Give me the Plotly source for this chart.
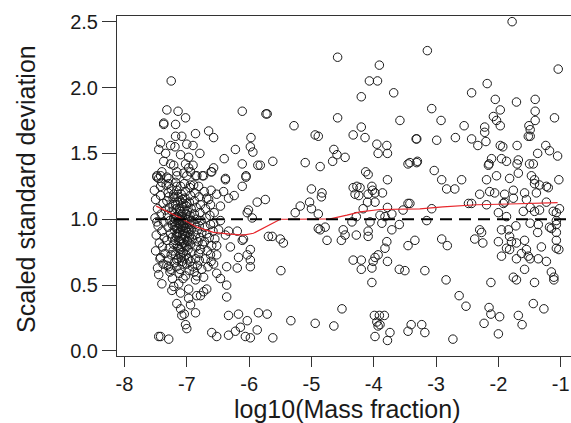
import plotly.graph_objects as go

# scattered points outside the dense cluster
x_pts = [
    -7.25, -7.32, -7.14, -7.02, -7.37, -7.37, -7.18, -7.18, -7.08, -6.86, -6.65, -6.57,
    -6.11, -5.73, -5.97, -5.98, -5.94, -6.22, -6.40, -6.11, -5.86, -6.57, -6.60, -6.38,
    -6.05, -6.79, -7.42, -7.45, -7.34, -7.26, -7.19, -7.00, -6.90, -6.97, -7.10, -7.37,
    -7.26, -7.21, -7.02, -6.97, -6.90, -7.40, -7.48, -7.32, -7.16, -7.05, -6.94, -6.84,
    -6.73,
    -7.48, -7.42, -7.29, -7.16, -7.00, -6.86, -6.75, -6.61, -6.38, -6.05,
    -7.42, -7.29, -7.16, -6.94, -6.81, -6.61, -6.52, -6.41, -6.33, -6.24, -6.11, -5.87,
    -5.74, -6.68, -6.62, -6.46, -6.01, -6.03, -5.95, -6.46, -6.57, -6.49, -6.38, -6.33,
    -6.19, -6.11, -6.09, -5.98, -6.30, -6.17, -6.03, -5.98, -5.98, -6.52, -6.62, -6.52,
    -6.57, -6.36, -6.19, -6.52, -6.46, -6.36, -6.36, -6.73, -6.86, -6.68, -6.73, -6.78,
    -6.84, -6.97, -6.97, -6.94, -6.86, -7.08, -7.04, -7.02, -7.00, -7.10, -7.16, -7.21,
    -7.24, -7.10, -7.45, -7.40, -7.32, -7.29, -7.42, -7.45, -7.42, -7.29, -6.33, -6.17,
    -6.03, -5.85, -5.71, -6.60, -6.52, -6.33, -6.22, -6.14, -6.06, -5.98, -5.87, -5.69,
    -4.58, -3.91, -4.07, -3.94, -3.68, -4.20, -5.71, -5.28, -4.58, -3.58, -4.20, -4.94,
    -4.89, -4.33, -4.14, -3.32, -3.95, -3.79, -3.93, -3.78, -4.64, -4.59, -4.46, -4.66,
    -5.62, -5.82, -5.10, -4.86, -3.45, -3.31, -4.13, -4.09, -3.78,
    -5.00, -4.83, -4.84, -5.03, -5.18, -5.26, -5.00, -4.89, -4.33, -4.27, -4.22, -4.30,
    -4.24, -4.03, -4.02, -4.09, -3.98, -3.86, -4.10, -3.98, -4.17, -3.78, -3.45, -3.53,
    -3.90, -3.82, -3.71, -4.28, -4.35, -4.06, -3.87, -4.89, -4.86, -4.78, -4.49, -4.46,
    -4.28, -4.09, -4.09, -3.71, -3.59, -5.63, -5.50, -5.45, -4.75, -4.52, -3.79, -3.82,
    -3.34, -3.45, -3.93, -3.98, -4.01, -4.03, -4.33, -4.20, -4.20, -3.78, -3.59, -3.50,
    -5.49, -4.03, -4.51, -5.33, -4.94, -4.64, -3.99, -3.91, -3.83, -3.95, -3.93, -3.90,
    -3.98, -3.74, -3.78, -5.62, -3.45, -3.40,
    -1.78, -3.14, -1.04, -2.18, -2.43, -2.05, -1.71, -1.41, -3.07, -1.97, -1.41, -2.92,
    -2.08, -2.03, -1.97, -1.41, -1.10, -2.55, -2.22, -2.22, -1.51, -1.49, -1.52, -1.49,
    -3.31, -2.99, -2.69, -2.43, -2.33, -2.20, -1.97, -1.93, -1.70, -1.24, -1.18, -1.05,
    -1.37, -3.42, -3.30, -3.03, -2.11, -2.15, -2.16, -1.95, -1.87, -1.68, -1.70, -1.50,
    -1.44, -2.91, -2.59, -2.19, -2.03, -1.82, -1.68, -1.47, -1.42, -1.03,
    -2.83, -2.70, -1.42, -1.34, -1.23, -1.20, -2.30, -2.14, -2.06, -1.90, -1.76, -1.90,
    -1.76, -1.58, -1.39, -1.55, -1.23, -3.42, -3.07, -2.48, -2.43, -2.19, -1.92, -2.00,
    -1.87, -1.60, -1.49, -1.42, -1.34, -1.12, -1.07, -1.02, -3.15, -1.49, -1.36, -1.07,
    -1.07, -1.18, -2.30, -2.27, -1.95, -1.84, -1.72, -1.37, -1.15, -1.07, -2.91, -2.82,
    -2.38, -2.25, -2.00, -1.82, -1.79, -1.71, -1.58, -1.87, -1.82, -1.95, -1.71, -1.63,
    -1.55, -1.52, -1.49, -1.36, -1.31, -1.23, -1.07, -1.07, -1.03, -3.18, -1.58, -1.76,
    -1.71, -1.15, -1.11, -1.11, -1.42, -2.84, -2.12, -2.63, -2.52, -2.15, -2.12, -2.23,
    -1.98, -1.68, -1.62, -1.44, -1.27, -2.00, -2.73, -3.23, -3.18,
]
y_pts = [
    2.05, 1.83, 1.82, 1.77, 1.73, 1.72, 1.72, 1.63, 1.63, 1.65, 1.67, 1.62,
    1.82, 1.80, 1.62, 1.55, 1.51, 1.53, 1.46, 1.42, 1.41, 1.39, 1.36, 1.31,
    1.33, 1.50, 1.58, 1.53, 1.50, 1.56, 1.55, 1.57, 1.56, 1.47, 1.49, 1.44,
    1.42, 1.41, 1.42, 1.39, 1.41, 1.36, 1.32, 1.32, 1.36, 1.35, 1.36, 1.33,
    1.33,
    1.33, 1.33, 1.31, 1.33, 1.33, 1.33, 1.33, 1.36, 1.30, 1.32,
    1.25, 1.27, 1.25, 1.26, 1.25, 1.22, 1.19, 1.21, 1.16, 1.18, 1.25, 1.13,
    1.15, 1.16, 1.11, 1.10, 1.07, 1.05, 1.01, 0.99, 0.97, 0.92, 0.88, 0.91,
    0.91, 0.84, 0.85, 0.77, 0.79, 0.71, 0.73, 0.69, 0.64, 0.80, 0.73, 0.73,
    0.66, 0.64, 0.63, 0.59, 0.55, 0.50, 0.41, 0.56, 0.54, 0.47, 0.45, 0.42,
    0.42, 0.47, 0.40, 0.35, 0.29, 0.27, 0.28, 0.20, 0.17, 0.32, 0.36, 0.49,
    0.46, 0.44, 0.58, 0.51, 0.65, 0.64, 0.71, 0.11, 0.11, 0.09, 0.27, 0.28,
    0.23, 0.29, 0.28, 0.14, 0.11, 0.12, 0.15, 0.18, 0.11, 0.10, 0.16, 0.87,
    2.23, 2.17, 2.05, 2.05, 1.96, 1.93, 1.80, 1.71, 1.77, 1.75, 1.70, 1.64,
    1.63, 1.64, 1.62, 1.61, 1.57, 1.56, 1.50, 1.50, 1.53, 1.49, 1.47, 1.44,
    1.44, 1.41, 1.43, 1.40, 1.42, 1.43, 1.36, 1.34, 1.30,
    1.23, 1.20, 1.17, 1.13, 1.10, 1.05, 1.08, 1.04, 1.24, 1.25, 1.24, 1.19,
    1.18, 1.25, 1.22, 1.19, 1.20, 1.20, 1.13, 1.13, 1.08, 1.09, 1.12, 1.07,
    1.03, 1.02, 1.04, 1.02, 0.98, 0.98, 0.97, 0.93, 0.92, 0.94, 0.92, 0.88,
    0.88, 0.91, 0.87, 0.92, 0.96, 0.87, 0.85, 0.82, 0.84, 0.84, 0.83, 0.78,
    0.84, 0.80, 0.73, 0.71, 0.68, 0.63, 0.69, 0.69, 0.62, 0.68, 0.62, 0.61,
    0.61, 0.52, 0.32, 0.23, 0.21, 0.19, 0.27, 0.27, 0.27, 0.22, 0.19, 0.20,
    0.11, 0.14, 0.08, 0.10, 0.15, 0.20,
    2.50, 2.28, 2.14, 2.03, 1.96, 1.91, 1.89, 1.91, 1.84, 1.83, 1.82, 1.75,
    1.78, 1.75, 1.71, 1.75, 1.77, 1.71, 1.70, 1.66, 1.71, 1.68, 1.63, 1.63,
    1.61, 1.60, 1.62, 1.61, 1.56, 1.59, 1.56, 1.55, 1.56, 1.56, 1.52, 1.48,
    1.50, 1.43, 1.44, 1.37, 1.46, 1.42, 1.41, 1.46, 1.44, 1.45, 1.42, 1.42,
    1.42, 1.30, 1.30, 1.30, 1.33, 1.31, 1.35, 1.33, 1.30, 1.30,
    1.23, 1.23, 1.27, 1.26, 1.25, 1.24, 1.19, 1.21, 1.20, 1.19, 1.22, 1.13,
    1.16, 1.20, 1.20, 1.15, 1.13, 1.12, 1.08, 1.12, 1.12, 1.11, 1.12, 1.05,
    1.02, 1.06, 1.09, 1.06, 1.07, 1.06, 1.05, 1.08, 0.99, 0.97, 0.96, 0.99,
    0.96, 0.94, 0.92, 0.90, 0.92, 0.92, 0.95, 0.90, 0.93, 0.90, 0.85, 0.80,
    0.85, 0.82, 0.83, 0.87, 0.83, 0.82, 0.84, 0.78, 0.77, 0.72, 0.70, 0.74,
    0.77, 0.72, 0.70, 0.70, 0.79, 0.68, 0.84, 0.78, 0.77, 0.61, 0.62, 0.56,
    0.54, 0.60, 0.56, 0.54, 0.52, 0.54, 0.52, 0.42, 0.34, 0.33, 0.28, 0.21,
    0.26, 0.27, 0.20, 0.36, 0.32, 0.13, 0.09, 0.20, 0.14,
]

# dense cluster around log10(mass fraction) = -7
x_clu = [
    -7.52, -7.50, -7.47, -7.51, -7.46, -7.49, -7.44, -7.50, -7.43, -7.47, -7.40, -7.42,
    -7.38, -7.41, -7.37, -7.40, -7.36, -7.39, -7.35, -7.38, -7.45, -7.48,
    -7.33, -7.30, -7.32, -7.28, -7.31, -7.27, -7.30, -7.26, -7.32, -7.28, -7.25, -7.30,
    -7.27, -7.23, -7.25, -7.22, -7.24, -7.21, -7.23, -7.20, -7.24, -7.21, -7.22, -7.20,
    -7.26, -7.29, -7.34, -7.22,
    -7.18, -7.16, -7.19, -7.15, -7.17, -7.13, -7.18, -7.14, -7.16, -7.12, -7.17, -7.13,
    -7.15, -7.11, -7.18, -7.14, -7.16, -7.12, -7.10, -7.09, -7.11, -7.08, -7.10, -7.07,
    -7.09, -7.06, -7.10, -7.07, -7.09, -7.05, -7.08, -7.06, -7.09, -7.07, -7.11, -7.06,
    -7.13, -7.19, -7.12, -7.14, -7.16, -7.08, -7.11, -7.05, -7.19,
    -7.04, -7.02, -7.03, -7.00, -7.04, -7.01, -6.99, -7.03, -7.00, -6.98, -7.02, -6.99,
    -7.03, -6.98, -7.01, -6.97, -7.00, -6.96, -7.02, -6.95, -6.94, -6.96, -6.93, -6.95,
    -6.92, -6.96, -6.93, -6.95, -6.91, -6.94, -6.92, -6.94, -6.91, -7.01, -6.97,
    -6.89, -6.87, -6.88, -6.85, -6.88, -6.84, -6.87, -6.83, -6.86, -6.82, -6.85, -6.81,
    -6.86, -6.83, -6.88, -6.80, -6.78, -6.79, -6.77, -6.80, -6.76, -6.79, -6.75, -6.78,
    -6.80, -6.76, -6.84,
    -6.72, -6.70, -6.69, -6.71, -6.68, -6.72, -6.67, -6.70, -6.65, -6.63, -6.62, -6.64,
    -6.60, -6.58, -6.56, -6.55, -6.66, -6.61,
    -7.20, -7.17, -7.14, -7.11, -7.08, -7.05, -7.02, -6.99, -6.96, -7.19, -7.15, -7.12,
    -7.09, -7.06, -7.03, -7.00, -6.97, -7.18, -7.13, -7.07, -7.01, -6.95, -7.16, -7.10,
    -7.04, -6.98, -7.21, -7.14, -7.08, -7.02,
]
y_clu = [
    1.22, 1.15, 1.08, 1.01, 0.95, 0.88, 0.82, 0.76, 0.70, 0.63, 1.28, 1.18,
    1.12, 1.04, 0.98, 0.91, 0.86, 0.79, 0.74, 0.66, 1.31, 0.98,
    1.26, 1.20, 1.14, 1.09, 1.03, 0.99, 0.94, 0.89, 0.84, 0.78, 0.73, 0.69,
    0.60, 0.55, 1.23, 1.16, 1.06, 1.01, 0.96, 0.92, 0.86, 0.81, 0.76, 0.67,
    0.62, 1.17, 1.07, 1.11,
    1.28, 1.22, 1.17, 1.13, 1.08, 1.04, 1.00, 0.97, 0.93, 0.90, 0.87, 0.84,
    0.80, 0.77, 0.73, 0.70, 0.64, 0.59, 1.25, 1.19, 1.14, 1.10, 1.06, 1.02,
    0.99, 0.95, 0.92, 0.88, 0.85, 0.82, 0.79, 0.75, 0.71, 0.66, 0.62, 0.55,
    0.51, 0.95, 0.97, 1.01, 0.89, 0.94, 0.83, 0.91, 1.04,
    1.27, 1.21, 1.16, 1.12, 1.07, 1.04, 1.00, 0.97, 0.94, 0.90, 0.87, 0.84,
    0.80, 0.77, 0.73, 0.70, 0.66, 0.61, 0.57, 1.24, 1.18, 1.13, 1.08, 1.03,
    0.99, 0.96, 0.92, 0.88, 0.85, 0.81, 0.75, 0.68, 0.64, 0.91, 1.01,
    1.26, 1.20, 1.14, 1.09, 1.04, 1.00, 0.96, 0.92, 0.88, 0.83, 0.79, 0.74,
    0.70, 0.65, 0.60, 1.17, 1.11, 1.05, 0.99, 0.95, 0.90, 0.86, 0.81, 0.77,
    0.69, 0.62, 0.57,
    1.21, 1.08, 1.01, 0.94, 0.89, 0.83, 0.76, 0.70, 1.15, 1.03, 0.96, 0.86,
    0.80, 0.91, 1.05, 0.85, 0.64, 0.68,
    0.98, 1.02, 0.93, 0.96, 1.04, 0.99, 0.93, 1.06, 0.86, 0.84, 0.88, 1.08,
    0.81, 1.12, 0.89, 0.79, 0.93, 1.11, 0.78, 1.15, 1.10, 0.98, 0.69, 0.73,
    0.70, 0.83, 1.19, 1.17, 0.68, 1.00,
]

# lowess smooth (red line)
x_fit = [-7.49, -7.10, -6.84, -6.57, -6.30, -6.09, -5.93, -5.77, -5.66, -5.50, -5.29,
         -4.97, -4.70, -4.43, -4.22, -3.90, -3.58, -3.26, -2.89, -2.35, -1.82, -1.28, -1.05]
y_fit = [1.10, 1.01, 0.94, 0.90, 0.887, 0.879, 0.894, 0.932, 0.963, 1.00, 1.00,
         1.003, 1.003, 1.031, 1.056, 1.074, 1.079, 1.079, 1.094, 1.11, 1.116, 1.124, 1.126]

x_ticks = [-8, -7, -6, -5, -4, -3, -2, -1]
y_ticks = [0.0, 0.5, 1.0, 1.5, 2.0, 2.5]

fig = go.Figure()
fig.add_trace(go.Scatter(
    x=x_pts + x_clu, y=y_pts + y_clu, mode='markers',
    marker=dict(symbol='circle-open', size=8.5, color='#1a1a1a', line=dict(width=1)),
    showlegend=False, hoverinfo='skip'))
fig.add_hline(y=1.0, line=dict(color='black', width=2, dash='12px,7px'))
fig.add_trace(go.Scatter(x=x_fit, y=y_fit, mode='lines', line=dict(color='#e8262b', width=1.2),
                         showlegend=False, hoverinfo='skip'))

fnt = dict(family='Liberation Sans, Arial, sans-serif', color='#1a1a1a')
fig.update_layout(
    width=571, height=423,
    margin=dict(l=116.5, r=0, t=16, b=67.3),
    plot_bgcolor='white', paper_bgcolor='white',
    font=fnt,
    xaxis=dict(range=[-8.12, -0.835], tickvals=x_ticks, ticktext=[str(v) for v in x_ticks],
               showgrid=False, zeroline=False, showline=True, mirror=True, automargin=False,
               linecolor='#333', linewidth=1, ticks='outside', ticklen=10, tickcolor='#333',
               tickfont=dict(size=20), ticklabeloverflow='allow'),
    yaxis=dict(range=[-0.038, 2.543], tickvals=y_ticks, ticktext=['%.1f' % v for v in y_ticks],
               showgrid=False, zeroline=False, showline=True, mirror=True, automargin=False,
               linecolor='#333', linewidth=1, ticks='outside', ticklen=14, tickcolor='#333',
               tickfont=dict(size=20)),
    annotations=[
        dict(text='log10(Mass fraction)', xref='paper', yref='paper', x=0.5, y=0,
             xanchor='center', yanchor='middle', yshift=-53, xshift=3, showarrow=False,
             font=dict(size=25)),
        dict(text='Scaled standard deviation', xref='paper', yref='paper', x=0, y=0.5,
             xanchor='center', yanchor='middle', xshift=-91, yshift=-3, textangle=-90,
             showarrow=False, font=dict(size=25)),
    ],
)
# drop the default body margin so the figure fills the window exactly
fig.write_html("out.html", config={'displayModeBar': False},
               post_script="document.body.style.margin='0';document.body.style.overflow='hidden';")
